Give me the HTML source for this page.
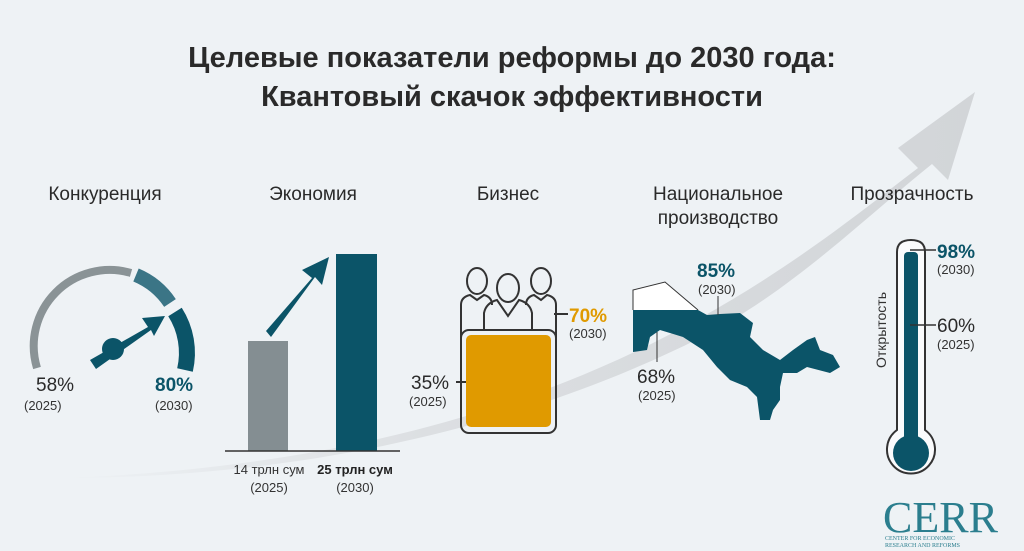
<!DOCTYPE html>
<html><head><meta charset="utf-8"><style>
body{margin:0;width:1024px;height:551px;overflow:hidden;background:#eef2f5;font-family:"Liberation Sans",sans-serif}
svg{position:absolute;left:0;top:0}
</style></head><body>
<svg width="1024" height="551" viewBox="0 0 1024 551" font-family="Liberation Sans, sans-serif">
<defs><linearGradient id="sw" x1="0" x2="1"><stop offset="0" stop-color="#eef2f5"/><stop offset="0.4" stop-color="#dcdfe2"/><stop offset="1" stop-color="#d2d5d8"/></linearGradient></defs>
<path d="M60 478 C300 470 520 420 700 318 C790 268 850 220 918 168 L898 148 L975 92 L948 180 L932 164 C860 222 790 292 700 338 C520 428 300 478 60 478 Z" fill="url(#sw)"/>
<text x="512" y="67" text-anchor="middle" font-size="29" font-weight="bold" fill="#2a2a2a">Целевые показатели реформы до 2030 года:</text>
<text x="512" y="106" text-anchor="middle" font-size="29" font-weight="bold" fill="#2a2a2a">Квантовый скачок эффективности</text>
<g font-size="19" fill="#2a2a2a" text-anchor="middle">
<text x="105" y="200">Конкуренция</text>
<text x="313" y="200">Экономия</text>
<text x="508" y="200">Бизнес</text>
<text x="718" y="200">Национальное</text>
<text x="718" y="224">производство</text>
<text x="912" y="200">Прозрачность</text>
</g>
<!-- gauge -->
<path d="M37 368 A76 76 0 0 1 131 273" fill="none" stroke="#8a9396" stroke-width="8"/>
<path d="M136 275 A76 76 0 0 1 170 303" fill="none" stroke="#3b7586" stroke-width="14"/>
<path d="M175 312 A76 76 0 0 1 185 370" fill="none" stroke="#0b5468" stroke-width="16"/>
<path d="M90 360 L148 327 L142 318 L165 316 L154 336 L151 330 L96 369 Z" fill="#0b5468"/>
<circle cx="113" cy="349" r="11" fill="#0b5468"/>
<text x="36" y="391" font-size="19" fill="#2a2a2a">58%</text>
<text x="24" y="410" font-size="13" fill="#333">(2025)</text>
<text x="155" y="391" font-size="19" font-weight="bold" fill="#0b5468">80%</text>
<text x="155" y="410" font-size="13" fill="#333">(2030)</text>
<!-- bars -->
<rect x="248" y="341" width="40" height="110" fill="#848e92"/>
<rect x="336" y="254" width="41" height="197" fill="#0b5468"/>
<line x1="225" y1="451" x2="400" y2="451" stroke="#333" stroke-width="1.5"/>
<path d="M266 331 L312 278 L302 270 L329 257 L322 285 L315 277 L271 337 Z" fill="#0b5468"/>
<text x="269" y="474" text-anchor="middle" font-size="13" fill="#333">14 трлн сум</text>
<text x="269" y="492" text-anchor="middle" font-size="13" fill="#333">(2025)</text>
<text x="355" y="474" text-anchor="middle" font-size="13" font-weight="bold" fill="#222">25 трлн сум</text>
<text x="355" y="492" text-anchor="middle" font-size="13" fill="#333">(2030)</text>
<!-- business -->
<g fill="none" stroke="#333" stroke-width="2">
<ellipse cx="477" cy="281" rx="10" ry="13"/><ellipse cx="541" cy="281" rx="10" ry="13"/><ellipse cx="508" cy="288" rx="11" ry="14"/>
<path d="M461 355 V305 Q461 297 470 295 L477 300 L484 295 Q492 297 492 305"/>
<path d="M556 355 V305 Q556 297 547 295 L541 300 L534 295 Q526 297 526 305"/>
<path d="M484 330 V313 Q486 303 497 300 L508 316 L519 300 Q530 303 532 313 V330"/>
<rect x="461" y="330" width="95" height="103" rx="8"/>
<line x1="554" y1="314" x2="568" y2="314"/>
<line x1="456" y1="382" x2="472" y2="382"/>
</g>
<rect x="466" y="335" width="85" height="92" rx="5" fill="#e09a00"/>
<text x="569" y="322" font-size="19" font-weight="bold" fill="#e09a00">70%</text>
<text x="569" y="338" font-size="13" fill="#333">(2030)</text>
<text x="411" y="389" font-size="19" fill="#2a2a2a">35%</text>
<text x="409" y="406" font-size="13" fill="#333">(2025)</text>
<!-- map -->
<path d="M633 310 V290 L665 282 L698 310" fill="#fff" stroke="#333" stroke-width="1"/>
<path d="M633 310 L698 310 L707 315 L720 314 L740 313 L753 323 L750 337 L763 350 L780 360 L793 350 L807 340 L815 337 L820 350 L833 355 L840 367 L830 373 L807 367 L797 373 L783 373 L780 387 L780 400 L773 410 L770 420 L760 420 L757 397 L747 387 L730 380 L717 367 L703 350 L683 337 L670 333 L660 330 L650 337 L647 350 L633 352 Z" fill="#0b5468"/>
<line x1="718" y1="296" x2="718" y2="315" stroke="#333"/>
<line x1="657" y1="332" x2="657" y2="362" stroke="#333"/>
<text x="697" y="277" font-size="19" font-weight="bold" fill="#0b5468">85%</text>
<text x="698" y="294" font-size="13" fill="#333">(2030)</text>
<text x="637" y="383" font-size="19" fill="#2a2a2a">68%</text>
<text x="638" y="400" font-size="13" fill="#333">(2025)</text>
<!-- thermometer -->
<path d="M897 252 Q897 240 911 240 Q925 240 925 252 V430 A24 24 0 1 1 897 430 Z" fill="#fafbfc" stroke="#333" stroke-width="2"/>
<rect x="904" y="252" width="14" height="190" rx="4" fill="#0b5468"/>
<circle cx="911" cy="453" r="18" fill="#0b5468"/>
<line x1="910" y1="250" x2="936" y2="250" stroke="#333" stroke-width="1.5"/>
<line x1="910" y1="325" x2="936" y2="325" stroke="#333" stroke-width="1.5"/>
<text x="937" y="258" font-size="19" font-weight="bold" fill="#0b5468">98%</text>
<text x="937" y="274" font-size="13" fill="#333">(2030)</text>
<text x="937" y="332" font-size="19" fill="#2a2a2a">60%</text>
<text x="937" y="349" font-size="13" fill="#333">(2025)</text>
<text transform="translate(886 330) rotate(-90)" text-anchor="middle" font-size="14" fill="#333">Открытость</text>
<text x="883" y="532" font-family="Liberation Serif, serif" font-size="44" fill="#2b7e8e">CERR</text>
<text x="885" y="540" font-family="Liberation Serif, serif" font-size="6" fill="#2b7e8e">CENTER FOR ECONOMIC</text>
<text x="885" y="547" font-family="Liberation Serif, serif" font-size="6" fill="#2b7e8e">RESEARCH AND REFORMS</text>
</svg>
</body></html>
